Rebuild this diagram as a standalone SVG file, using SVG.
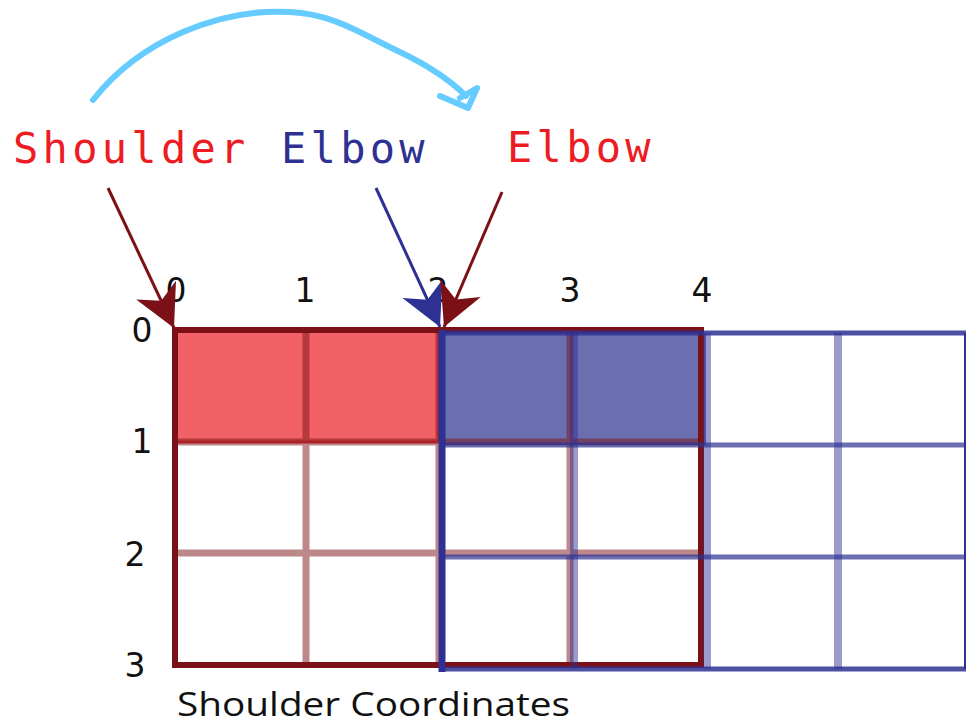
<svg xmlns="http://www.w3.org/2000/svg" width="966" height="726" viewBox="0 0 966 726">
  <style>
    .mono { font-family: "DejaVu Sans Mono", "Liberation Mono", monospace; font-size: 42px; letter-spacing: 4.3px; }
    .num { font-family: "DejaVu Sans", Verdana, sans-serif; font-size: 33px; fill: #111; }
    .cap { font-family: "Open Sans", "DejaVu Sans", sans-serif; font-size: 32px; fill: #111; }
    .rline { stroke: #7b1116; stroke-opacity: 0.5; stroke-width: 7; fill: none; }
    .bvline { stroke: #2e3192; stroke-opacity: 0.48; stroke-width: 8; fill: none; }
    .bhline { stroke: #2e3192; stroke-opacity: 0.7; stroke-width: 5; fill: none; }
    .ptr { stroke-width: 3; fill: none; }
  </style>
  <defs>
    <marker id="headRed" markerUnits="userSpaceOnUse" viewBox="-44 -24 46 48" refX="0" refY="0" markerWidth="46" markerHeight="48" orient="auto">
      <path d="M0,0 L-42,-22 L-30,0 L-42,22 Z" fill="#7b1116"/>
    </marker>
    <marker id="headBlue" markerUnits="userSpaceOnUse" viewBox="-44 -24 46 48" refX="0" refY="0" markerWidth="46" markerHeight="48" orient="auto">
      <path d="M0,0 L-42,-22 L-30,0 L-42,22 Z" fill="#2e3192"/>
    </marker>
  </defs>

  <rect width="966" height="726" fill="#fff"/>

  <!-- rotation arc -->
  <g id="swing">
    <path d="M93,100 C140,40 220,8 290,12 C335,14 365,36 400,52 C425,64 448,78 466,96" fill="none" stroke="#66ccff" stroke-width="6" stroke-linecap="round"/>
    <path d="M440,96 L468,108 L477,88 L460,98" fill="none" stroke="#66ccff" stroke-width="6" stroke-linecap="round" stroke-linejoin="round"/>
  </g>

  <!-- headings -->
  <g id="labels">
    <text class="mono" x="13" y="163" fill="#ed1c24">Shoulder</text>
    <text class="mono" x="281" y="163" fill="#2e3192">Elbow</text>
    <text class="mono" x="507" y="162" fill="#ed1c24">Elbow</text>
  </g>

  <!-- axis numbers -->
  <g id="axes">
    <text class="num" x="176" y="302" text-anchor="middle">0</text>
    <text class="num" x="305" y="302" text-anchor="middle">1</text>
    <text class="num" x="438" y="302" text-anchor="middle">2</text>
    <text class="num" x="570" y="302" text-anchor="middle">3</text>
    <text class="num" x="702" y="302" text-anchor="middle">4</text>
    <text class="num" x="142" y="342" text-anchor="middle">0</text>
    <text class="num" x="142" y="453" text-anchor="middle">1</text>
    <text class="num" x="135" y="566" text-anchor="middle">2</text>
    <text class="num" x="135" y="677" text-anchor="middle">3</text>
    <text class="cap" x="177" y="716" textLength="393" lengthAdjust="spacingAndGlyphs">Shoulder Coordinates</text>
  </g>

  <!-- grids -->
  <g id="shoulder-fill">
    <rect x="176" y="331" width="263" height="111" fill="#f16166" stroke="#d9303b" stroke-width="3"/>
  </g>
  <g id="elbow-fill">
    <rect x="442" y="333" width="264" height="112" fill="#6b6faf"/>
  </g>
  <g id="shoulder-grid">
    <path class="rline" d="M306,330 V665 M439,330 V665 M570,330 V665 M175,442 H701 M175,553 H701"/>
    <rect x="175" y="330" width="526" height="335" fill="none" stroke="#7b1116" stroke-width="6"/>
  </g>
  <g id="elbow-grid">
    <path class="bvline" d="M574,333 V669 M707,333 V669 M838,333 V669"/>
    <path class="bhline" d="M442,445 H966 M442,557 H966"/>
    <path d="M442,333 H968 M442,669 H968" stroke="#2e3192" stroke-opacity="0.85" stroke-width="5" fill="none"/>
    <path d="M442,330 V672" stroke="#2e3192" stroke-width="7" fill="none"/>
    <path d="M965,333 V669" stroke="#2e3192" stroke-width="2" fill="none"/>
  </g>

  <!-- pointers -->
  <g id="connectors">
    <path class="ptr" d="M108,188 L174,328" stroke="#7b1116" marker-end="url(#headRed)"/>
    <path class="ptr" d="M376,188 L440,327" stroke="#2e3192" marker-end="url(#headBlue)"/>
    <path class="ptr" d="M502,192 L444,327" stroke="#7b1116" marker-end="url(#headRed)"/>
  </g>
</svg>
